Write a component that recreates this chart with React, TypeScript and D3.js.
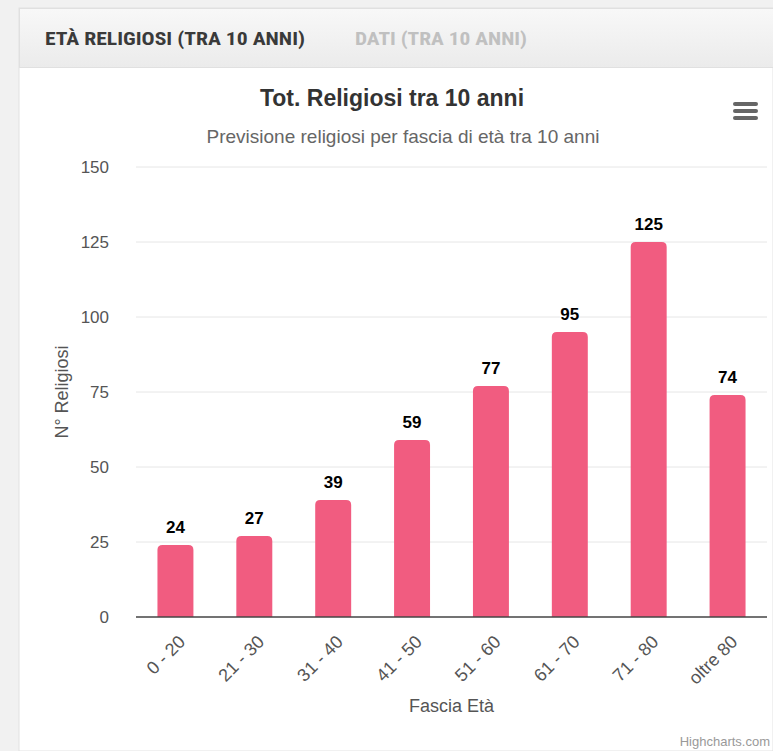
import React from "react";
import * as d3 from "d3";

const categories = ["0 - 20", "21 - 30", "31 - 40", "41 - 50", "51 - 60", "61 - 70", "71 - 80", "oltre 80"];
const values = [24, 27, 39, 59, 77, 95, 125, 74];
const yTicks = [0, 25, 50, 75, 100, 125, 150];
const tabLabels = ["ETÀ RELIGIOSI (TRA 10 ANNI)", "DATI (TRA 10 ANNI)"];
const titleText = "Tot. Religiosi tra 10 anni";
const subtitleText = "Previsione religiosi per fascia di età tra 10 anni";
const xTitle = "Fascia Età";
const yTitle = "N° Religiosi";

const W = 773;
const H = 751;
const FONT = "'Liberation Sans', Arial, Helvetica, sans-serif";

export default function App() {
  const left = 136, right = 767, top = 167, bottom = 617;
  const x = d3.scaleBand<string>().domain(categories).range([left, right]).paddingInner(0.544).paddingOuter(0.272);
  const y = d3.scaleLinear().domain([0, 150]).range([bottom, top]);
  const bw = x.bandwidth();
  const r = 5;

  const barPath = (x0: number, y0: number, w: number, h: number) => {
    const rr = Math.min(r, h);
    return `M${x0},${y0 + h}V${y0 + rr}Q${x0},${y0} ${x0 + rr},${y0}H${x0 + w - rr}Q${x0 + w},${y0} ${x0 + w},${y0 + rr}V${y0 + h}Z`;
  };

  return (
    <div style={{ position: "absolute", left: 0, top: 0, width: W, height: H }}>
      <svg width={W} height={H} style={{ display: "block" }} fontFamily={FONT}>
        <defs>
          <linearGradient id="hdr" x1="0" y1="0" x2="0" y2="1">
            <stop offset="0" stopColor="#f8f8f8" />
            <stop offset="1" stopColor="#ebebeb" />
          </linearGradient>
        </defs>
        <rect x={0} y={0} width={W} height={H} fill="#f1f1f1" />
        <rect x={19} y={8} width={W - 19} height={H - 8} fill="#ffffff" stroke="#e2e2e2" />
        <rect x={19.5} y={8.5} width={W - 19} height={59} fill="url(#hdr)" stroke="#e0e0e0" />
        <text x={45} y={45} fontFamily="'Liberation Sans Narrow', 'Roboto Condensed', Arial, sans-serif" fontWeight="bold" fontSize={18} fill="#3a3a3a" textLength={260} lengthAdjust="spacingAndGlyphs">{tabLabels[0]}</text>
        <text x={355} y={45} fontFamily="'Liberation Sans Narrow', 'Roboto Condensed', Arial, sans-serif" fontWeight="bold" fontSize={18} fill="#c0c0c0" textLength={172} lengthAdjust="spacingAndGlyphs">{tabLabels[1]}</text>

        {/* title */}
        <text x={392} y={106} textAnchor="middle" fontSize={23} fontWeight="bold" fill="#333">{titleText}</text>
        <text x={403} y={143} textAnchor="middle" fontSize={19} fill="#666">{subtitleText}</text>

        {/* menu icon */}
        {[0, 7, 14].map((d) => (
          <rect key={d} x={733} y={102 + d} width={25} height={4} rx={2} fill="#666" />
        ))}

        {/* gridlines */}
        {yTicks.map((t) => (
          <g key={t}>
            {t !== 0 && <line x1={left} x2={right} y1={y(t)} y2={y(t)} stroke="#e6e6e6" strokeWidth={1} />}
            <text x={109} y={y(t) + 6} textAnchor="end" fontSize={17} fill="#555">{t}</text>
          </g>
        ))}

        {/* bars */}
        {values.map((v, i) => {
          const bx = x(categories[i])!;
          return (
            <g key={i}>
              <path d={barPath(bx, y(v), bw, bottom - y(v))} fill="#f15c80" />
              <text x={bx + bw / 2} y={y(v) - 12} textAnchor="middle" fontSize={17} fontWeight="bold" fill="#000" stroke="#fff" strokeWidth={2} paintOrder="stroke">{v}</text>
            </g>
          );
        })}

        <line x1={left} x2={right} y1={bottom} y2={bottom} stroke="#444" strokeWidth={1.5} />

        {/* x labels */}
        {categories.map((c) => {
          const cx = x(c)! + bw / 2 + 11;
          const cy = bottom + 26;
          return (
            <text key={c} x={cx} y={cy} transform={`rotate(-45 ${cx} ${cy})`} textAnchor="end" fontSize={18} fill="#555">{c}</text>
          );
        })}

        <text x={(left + right) / 2} y={712} textAnchor="middle" fontSize={18} fill="#555">{xTitle}</text>
        <text transform={`translate(68 ${(top + bottom) / 2}) rotate(-90)`} textAnchor="middle" fontSize={18} fill="#555">{yTitle}</text>

        <text x={770} y={746} textAnchor="end" fontSize={13} fill="#999">Highcharts.com</text>
      </svg>
    </div>
  );
}
